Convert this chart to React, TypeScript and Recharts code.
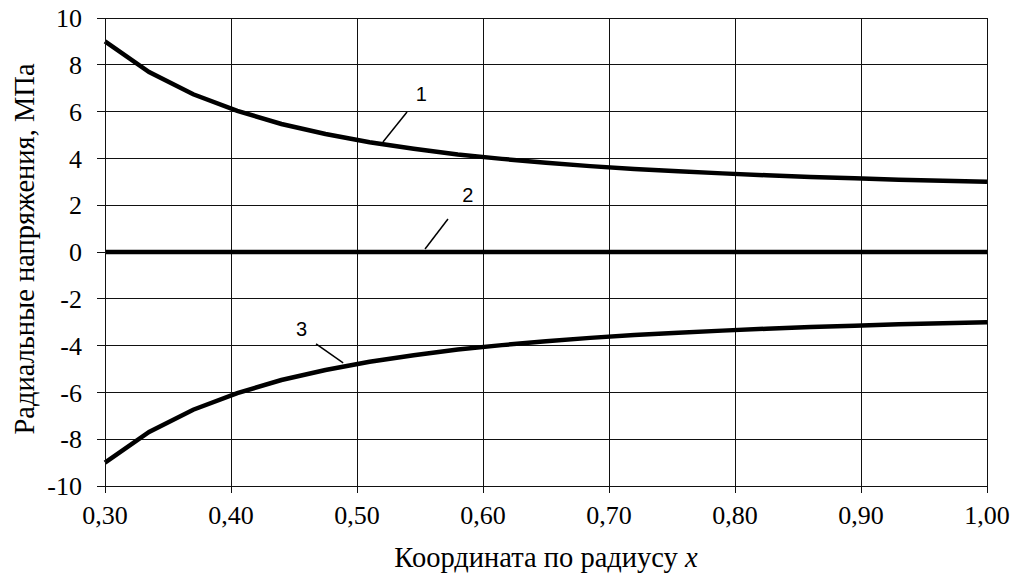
import React from 'react';
import {
  LineChart,
  Line,
  XAxis,
  YAxis,
  CartesianGrid,
  ReferenceLine,
  ReferenceDot,
  Label,
} from 'recharts';

// координата по радиусу
const xs = [
  0.3, 0.335, 0.37, 0.405, 0.44, 0.475, 0.51, 0.545, 0.58, 0.615, 0.65,
  0.685, 0.72, 0.755, 0.79, 0.825, 0.86, 0.895, 0.93, 0.965, 1.0,
];
// кривая 1
const curve1 = [
  9.0, 7.69, 6.74, 6.03, 5.47, 5.04, 4.69, 4.41, 4.17, 3.98, 3.81,
  3.67, 3.55, 3.45, 3.36, 3.28, 3.21, 3.15, 3.09, 3.04, 3.0,
];
// кривая 2
const curve2 = [
  0, 0, 0, 0, 0, 0, 0, 0, 0, 0, 0, 0, 0, 0, 0, 0, 0, 0, 0, 0, 0,
];
// кривая 3
const curve3 = [
  -9.0, -7.69, -6.74, -6.03, -5.47, -5.04, -4.69, -4.41, -4.17, -3.98, -3.81,
  -3.67, -3.55, -3.45, -3.36, -3.28, -3.21, -3.15, -3.09, -3.04, -3.0,
];

const xTicks = [0.3, 0.4, 0.5, 0.6, 0.7, 0.8, 0.9, 1.0];
const yTicks = [-10, -8, -6, -4, -2, 0, 2, 4, 6, 8, 10];

// выноски: номер, точка подписи, отрезок линии
const calloutNames = ['1', '2', '3'];
const calloutText = [
  [0.551, 6.75],
  [0.588, 2.42],
  [0.456, -3.3],
];
const calloutLines = [
  [[0.5397, 5.98], [0.5206, 4.7]],
  [[0.5722, 1.41], [0.554, 0.13]],
  [[0.4675, -3.93], [0.489, -4.74]],
];

const data = xs.map((x, i) => ({
  x,
  s1: curve1[i],
  s2: curve2[i],
  s3: curve3[i],
}));

const gridColor = '#111';
const serif = "'Liberation Serif', 'DejaVu Serif', serif";
const sans = "'Liberation Sans', 'DejaVu Sans', sans-serif";

const XTitle = (props: any) => {
  const vb = props.viewBox || {};
  return (
    <text
      x={vb.x + vb.width / 2}
      y={vb.y + 81}
      textAnchor="middle"
      style={{ fontFamily: serif, fontSize: 28.5 }}
      fill="#000"
    >
      Координата по радиусу <tspan style={{ fontStyle: 'italic' }}>x</tspan>
    </text>
  );
};

const YTitle = (props: any) => {
  const vb = props.viewBox || {};
  const cx = 24;
  const cy = vb.y + vb.height / 2 - 3;
  return (
    <text
      x={cx}
      y={cy}
      transform={`rotate(-90, ${cx}, ${cy})`}
      textAnchor="middle"
      dominantBaseline="central"
      style={{ fontFamily: serif, fontSize: 28.5 }}
      fill="#000"
    >
      Радиальные напряжения, МПа
    </text>
  );
};

const fmt = (v: number) => v.toFixed(2).replace('.', ',');

export default function App() {
  return (
    <div
      style={{
        position: 'absolute',
        left: 0,
        top: 0,
        background: '#fff',
        fontFamily: serif,
      }}
    >
      <LineChart
        width={1017}
        height={576}
        data={data}
        margin={{ top: 18, right: 30, bottom: 0, left: 0 }}
        style={{ fontFamily: serif }}
      >
        <CartesianGrid stroke={gridColor} strokeWidth={1} shapeRendering="crispEdges" />
        <XAxis
          dataKey="x"
          type="number"
          domain={[0.3, 1.0]}
          ticks={xTicks}
          tickFormatter={fmt}
          height={90}
          tickSize={7}
          tickMargin={13}
          axisLine={{ stroke: gridColor, shapeRendering: 'crispEdges' }}
          tickLine={{ stroke: gridColor, shapeRendering: 'crispEdges' }}
          tick={{ fill: '#000', fontSize: 26, style: { fontFamily: serif } }}
        >
          <Label content={<XTitle />} />
        </XAxis>
        <YAxis
          type="number"
          domain={[-10, 10]}
          ticks={yTicks}
          width={105}
          tickSize={8}
          tickMargin={15}
          axisLine={{ stroke: gridColor, shapeRendering: 'crispEdges' }}
          tickLine={{ stroke: gridColor, shapeRendering: 'crispEdges' }}
          tick={{ fill: '#000', fontSize: 26, style: { fontFamily: serif } }}
        >
          <Label content={<YTitle />} />
        </YAxis>
        <Line type="linear" dataKey="s1" stroke="#000" strokeWidth={4.5} dot={false} isAnimationActive={false} />
        <Line type="linear" dataKey="s2" stroke="#000" strokeWidth={4.5} dot={false} isAnimationActive={false} />
        <Line type="linear" dataKey="s3" stroke="#000" strokeWidth={4.5} dot={false} isAnimationActive={false} />
        {calloutLines.map((seg, i) => (
          <ReferenceLine
            key={'l' + i}
            segment={[
              { x: seg[0][0], y: seg[0][1] },
              { x: seg[1][0], y: seg[1][1] },
            ]}
            stroke="#000"
            strokeWidth={1.5}
            ifOverflow="visible"
          />
        ))}
        {calloutNames.map((name, i) => (
          <ReferenceDot
            key={'t' + i}
            x={calloutText[i][0]}
            y={calloutText[i][1]}
            r={0}
            fill="none"
            stroke="none"
            ifOverflow="visible"
            label={{
              value: name,
              position: 'center',
              fill: '#000',
              fontSize: 20,
              style: { fontFamily: sans },
            }}
          />
        ))}
      </LineChart>
    </div>
  );
}
